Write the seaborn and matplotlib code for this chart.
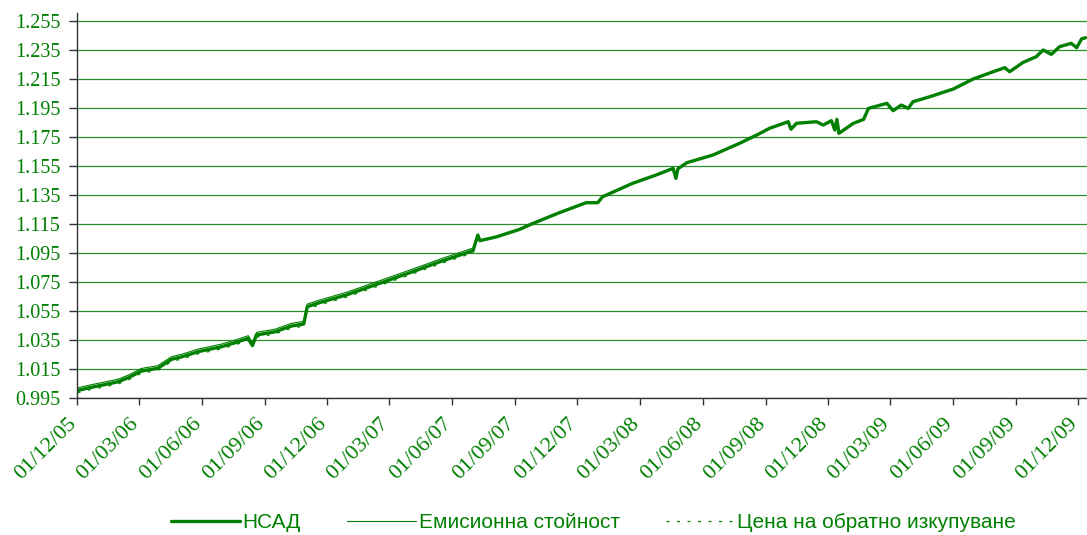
import pandas as pd
import matplotlib
matplotlib.use("Agg")
import matplotlib.pyplot as plt
import matplotlib.dates as mdates
import seaborn as sns

# Данные
dates = [
    "2005-12-02", "2005-12-20", "2006-01-10", "2006-01-30", "2006-02-15",
    "2006-03-05", "2006-03-29", "2006-04-18", "2006-05-05", "2006-05-27",
    "2006-06-30", "2006-07-20", "2006-08-08", "2006-08-14", "2006-08-20",
    "2006-09-16", "2006-10-10", "2006-10-28", "2006-11-02", "2006-11-20",
    "2006-12-29", "2007-02-16", "2007-04-05", "2007-05-15", "2007-07-02",
    "2007-07-09", "2007-07-12", "2007-08-05", "2007-09-08", "2007-09-28",
    "2007-11-05", "2007-12-14", "2007-12-31", "2008-01-07", "2008-02-20",
    "2008-03-25", "2008-04-19", "2008-04-23", "2008-04-26", "2008-05-09",
    "2008-06-16", "2008-07-25", "2008-08-19", "2008-09-07", "2008-10-04",
    "2008-10-08", "2008-10-16", "2008-11-14", "2008-11-24", "2008-12-06",
    "2008-12-11", "2008-12-14", "2008-12-17", "2009-01-07", "2009-01-22",
    "2009-01-29", "2009-02-25", "2009-03-06", "2009-03-18", "2009-03-28",
    "2009-04-04", "2009-04-29", "2009-06-02", "2009-07-01", "2009-07-30",
    "2009-08-16", "2009-08-23", "2009-09-12", "2009-10-01", "2009-10-11",
    "2009-10-23", "2009-11-04", "2009-11-21", "2009-11-29", "2009-12-06",
    "2009-12-12",
]
nav = [
    1.0000, 1.0020, 1.0040, 1.0060, 1.0090,
    1.0134, 1.0153, 1.0215, 1.0235, 1.0268,
    1.0302, 1.0330, 1.0360, 1.0310, 1.0383,
    1.0405, 1.0445, 1.0459, 1.0578, 1.0606,
    1.0659, 1.0740, 1.0820, 1.0889, 1.0965,
    1.1073, 1.1034, 1.1060, 1.1112, 1.1154,
    1.1227, 1.1296, 1.1296, 1.1337, 1.1430,
    1.1487, 1.1533, 1.1464, 1.1530, 1.1572,
    1.1625, 1.1706, 1.1763, 1.1810, 1.1855,
    1.1803, 1.1844, 1.1855, 1.1832, 1.1862,
    1.1798, 1.1871, 1.1775, 1.1844, 1.1871,
    1.1947, 1.1982, 1.1931, 1.1970, 1.1947,
    1.1993, 1.2028, 1.2081, 1.2150, 1.2200,
    1.2228, 1.2200, 1.2265, 1.2304, 1.2350,
    1.2320, 1.2373, 1.2396, 1.2366, 1.2426,
    1.2435,
]
issue_price = [
    1.0018, 1.0038, 1.0058, 1.0078, 1.0108,
    1.0152, 1.0171, 1.0233, 1.0253, 1.0286,
    1.0320, 1.0348, 1.0378, 1.0328, 1.0401,
    1.0423, 1.0463, 1.0477, 1.0596, 1.0624,
    1.0677, 1.0758, 1.0838, 1.0907, 1.0983,
    1.1073, 1.1034, 1.1060, 1.1112, 1.1154,
    1.1227, 1.1296, 1.1296, 1.1337, 1.1430,
    1.1487, 1.1533, 1.1464, 1.1530, 1.1572,
    1.1625, 1.1706, 1.1763, 1.1810, 1.1855,
    1.1803, 1.1844, 1.1855, 1.1832, 1.1862,
    1.1798, 1.1871, 1.1775, 1.1844, 1.1871,
    1.1947, 1.1982, 1.1931, 1.1970, 1.1947,
    1.1993, 1.2028, 1.2081, 1.2150, 1.2200,
    1.2228, 1.2200, 1.2265, 1.2304, 1.2350,
    1.2320, 1.2373, 1.2396, 1.2366, 1.2426,
    1.2435,
]
redeem_price = [
    0.9985, 1.0005, 1.0025, 1.0045, 1.0075,
    1.0119, 1.0138, 1.0200, 1.0220, 1.0253,
    1.0287, 1.0315, 1.0345, 1.0295, 1.0368,
    1.0390, 1.0430, 1.0444, 1.0563, 1.0591,
    1.0644, 1.0725, 1.0805, 1.0874, 1.0950,
    1.1073, 1.1034, 1.1060, 1.1112, 1.1154,
    1.1227, 1.1296, 1.1296, 1.1337, 1.1430,
    1.1487, 1.1533, 1.1464, 1.1530, 1.1572,
    1.1625, 1.1706, 1.1763, 1.1810, 1.1855,
    1.1803, 1.1844, 1.1855, 1.1832, 1.1862,
    1.1798, 1.1871, 1.1775, 1.1844, 1.1871,
    1.1947, 1.1982, 1.1931, 1.1970, 1.1947,
    1.1993, 1.2028, 1.2081, 1.2150, 1.2200,
    1.2228, 1.2200, 1.2265, 1.2304, 1.2350,
    1.2320, 1.2373, 1.2396, 1.2366, 1.2426,
    1.2435,
]
labels = ["НСАД", "Емисионна стойност", "Цена на обратно изкупуване"]
y_ticks = [0.995, 1.015, 1.035, 1.055, 1.075, 1.095, 1.115, 1.135,
           1.155, 1.175, 1.195, 1.215, 1.235, 1.255]

df = pd.DataFrame({
    "date": pd.to_datetime(dates),
    "nav": nav,
    "issue": issue_price,
    "redeem": redeem_price,
})

green = "#008000"

sns.set_style("white")
plt.rcParams["font.family"] = ["Liberation Serif", "DejaVu Serif"]

fig = plt.figure(figsize=(10.87, 5.35), dpi=100)
ax = fig.add_axes([0.0708, 0.2566, 0.9292, 0.719])

# Линии
sns.lineplot(data=df, x="date", y="issue", ax=ax, color=green, linewidth=0.8,
             label=labels[1])
sns.lineplot(data=df, x="date", y="redeem", ax=ax, color=green, linewidth=0.9,
             linestyle=(0, (2.4, 6.0)), label=labels[2])
sns.lineplot(data=df, x="date", y="nav", ax=ax, color=green, linewidth=2.4,
             label=labels[0])

ax.set_xlim(pd.Timestamp("2005-12-01"), pd.Timestamp("2009-12-14"))
ax.set_ylim(0.995, 1.2605)
ax.set_yticks(y_ticks)
ax.set_yticklabels([f"{v:.3f}" for v in y_ticks])

x_ticks = pd.date_range("2005-12-01", "2009-12-01", freq="3MS")
ax.set_xticks(x_ticks)
ax.xaxis.set_major_formatter(mdates.DateFormatter("%d/%m/%y"))

ax.set_xlabel("")
ax.set_ylabel("")

# Сетка и оси
ax.grid(False)
ax.yaxis.grid(True, color="#2e8f2e", linewidth=0.9)
ax.set_axisbelow(True)
for s in ["top", "right"]:
    ax.spines[s].set_visible(False)
for s in ["left", "bottom"]:
    ax.spines[s].set_color("#333333")
    ax.spines[s].set_linewidth(1.0)

ax.tick_params(axis="y", which="major", direction="out", length=6, width=1,
               color="#333333", labelcolor=green, labelsize=14.5, pad=6, left=True)
ax.tick_params(axis="x", which="major", direction="out", length=5, width=1,
               color="#333333", labelcolor=green, labelsize=16, pad=14, bottom=True)
for lbl in ax.get_xticklabels():
    lbl.set_rotation(45)
    lbl.set_ha("right")
    lbl.set_va("baseline")
    lbl.set_rotation_mode("anchor")

# Легенда
handles, lbls = ax.get_legend_handles_labels()
order = [lbls.index(l) for l in labels]
ax.legend([handles[i] for i in order], [lbls[i] for i in order],
          loc="center", bbox_to_anchor=(0.5460, 0.0225), bbox_transform=fig.transFigure,
          ncol=3, frameon=False, handlelength=3.3, handletextpad=0.15, columnspacing=2.2,
          prop={"family": "Liberation Sans", "size": 15}, labelcolor=green)

plt.savefig("out.png", dpi=100)
